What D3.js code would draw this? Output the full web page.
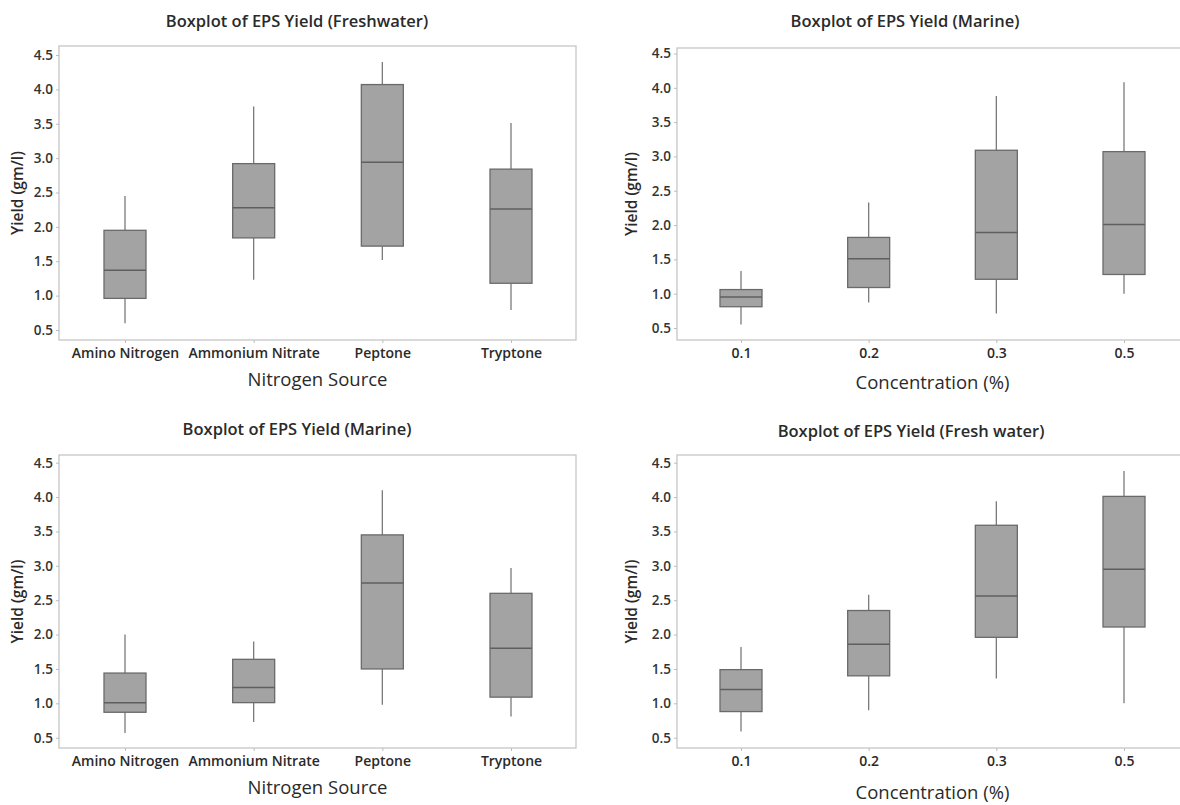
<!DOCTYPE html>
<html><head><meta charset="utf-8">
<script src="https://cdn.jsdelivr.net/npm/d3@7"></script>
<style>
html,body{margin:0;padding:0;background:#fff;}
svg{display:block;}
text{font-family:"Open Sans","Noto Sans",sans-serif;}
</style></head>
<body>
<svg id="chart" width="1180" height="805"></svg>
<script>
// ---- data: [whisker low, Q1, median, Q3, whisker high] ----
const nitrogenSources = ["Amino Nitrogen", "Ammonium Nitrate", "Peptone", "Tryptone"];
const concentrations = ["0.1", "0.2", "0.3", "0.5"];
const yTicks = [0.5, 1.0, 1.5, 2.0, 2.5, 3.0, 3.5, 4.0, 4.5];

const freshwaterNitrogen = [
  [0.60, 0.96, 1.37, 1.95, 2.45],
  [1.23, 1.84, 2.28, 2.92, 3.75],
  [1.52, 1.72, 2.94, 4.07, 4.40],
  [0.79, 1.18, 2.26, 2.84, 3.51]
];
const marineConcentration = [
  [0.55, 0.81, 0.95, 1.06, 1.33],
  [0.87, 1.09, 1.51, 1.82, 2.33],
  [0.71, 1.21, 1.89, 3.09, 3.88],
  [1.00, 1.28, 2.01, 3.07, 4.08]
];
const marineNitrogen = [
  [0.57, 0.87, 1.01, 1.44, 2.00],
  [0.73, 1.01, 1.23, 1.64, 1.90],
  [0.98, 1.50, 2.75, 3.45, 4.10],
  [0.81, 1.09, 1.80, 2.60, 2.97]
];
const freshConcentration = [
  [0.59, 0.88, 1.20, 1.49, 1.82],
  [0.90, 1.40, 1.86, 2.35, 2.58],
  [1.36, 1.96, 2.56, 3.59, 3.94],
  [1.00, 2.11, 2.95, 4.01, 4.38]
];

const titles = ["Boxplot of EPS Yield (Freshwater)", "Boxplot of EPS Yield (Marine)",
                "Boxplot of EPS Yield (Marine)", "Boxplot of EPS Yield (Fresh water)"];
const xTitles = ["Nitrogen Source", "Concentration (%)", "Nitrogen Source", "Concentration (%)"];
const yTitle = "Yield (gm/l)";

// ---- layout ----
const panels = [
  {cats: nitrogenSources, data: freshwaterNitrogen, title: titles[0], xt: xTitles[0],
   fx0: 59, fx1: 576, fy0: 46, fy1: 340, x0: 125, x1: 511, yTop: 55, yBot: 330,
   titleX: 297, titleY: 23, xtY: 381, tickY: 352, ylX: 19},
  {cats: concentrations, data: marineConcentration, title: titles[1], xt: xTitles[1],
   fx0: 677, fx1: 1190, fy0: 48, fy1: 340, x0: 741, x1: 1124, yTop: 53.5, yBot: 328,
   titleX: 905, titleY: 23, xtY: 384, tickY: 352, ylX: 633},
  {cats: nitrogenSources, data: marineNitrogen, title: titles[2], xt: xTitles[2],
   fx0: 59, fx1: 576, fy0: 455, fy1: 748, x0: 125, x1: 511, yTop: 462.7, yBot: 737.7,
   titleX: 297, titleY: 431, xtY: 789, tickY: 760, ylX: 19},
  {cats: concentrations, data: freshConcentration, title: titles[3], xt: xTitles[3],
   fx0: 677, fx1: 1190, fy0: 455, fy1: 748, x0: 741, x1: 1124, yTop: 462.7, yBot: 737.7,
   titleX: 911, titleY: 433, xtY: 794, tickY: 760, ylX: 633}
];

const svg = d3.select("#chart");
const textCol = "#2a2a2a";
const boxW = 42;

panels.forEach(p => {
  const g = svg.append("g");
  const x = d3.scalePoint().domain(p.cats).range([p.x0, p.x1]);
  const y = d3.scaleLinear().domain([0.5, 4.5]).range([p.yBot, p.yTop]);

  // frame
  g.append("rect").attr("x", p.fx0).attr("y", p.fy0)
    .attr("width", p.fx1 - p.fx0).attr("height", p.fy1 - p.fy0)
    .attr("fill", "none").attr("stroke", "#c6c6c6").attr("stroke-width", 1.3);

  // y axis
  const ya = g.append("g").attr("transform", `translate(${p.fx0},0)`)
    .call(d3.axisLeft(y).tickValues(yTicks).tickFormat(d3.format(".1f")).tickSize(3).tickPadding(3));
  ya.select(".domain").remove();
  ya.selectAll(".tick line").attr("stroke", "#bdbdbd");
  ya.selectAll(".tick text").attr("fill", "#333").style("font-size", "13.5px").style("font-weight", 600)
    .style("font-family", '"Open Sans",sans-serif');

  // x axis
  const xa = g.append("g").attr("transform", `translate(0,${p.fy1})`)
    .call(d3.axisBottom(x).tickSize(3).tickPadding(5));
  xa.select(".domain").remove();
  xa.selectAll(".tick line").attr("stroke", "#bdbdbd");
  xa.selectAll(".tick text").attr("fill", textCol).style("font-size", "14px").style("font-weight", 600)
    .style("font-family", '"Open Sans",sans-serif');

  // boxes
  const b = g.selectAll("g.box").data(p.data).join("g").attr("class", "box")
    .attr("transform", (d, i) => `translate(${x(p.cats[i])},0)`);
  b.append("line").attr("x1", 0).attr("x2", 0)
    .attr("y1", d => y(d[4])).attr("y2", d => y(d[3]))
    .attr("stroke", "#7a7a7a").attr("stroke-width", 1.3);
  b.append("line").attr("x1", 0).attr("x2", 0)
    .attr("y1", d => y(d[1])).attr("y2", d => y(d[0]))
    .attr("stroke", "#7a7a7a").attr("stroke-width", 1.3);
  b.append("rect").attr("x", -boxW / 2).attr("width", boxW)
    .attr("y", d => y(d[3])).attr("height", d => y(d[1]) - y(d[3]))
    .attr("fill", "#a3a3a3").attr("stroke", "#6a6a6a").attr("stroke-width", 1.3);
  b.append("line").attr("x1", -boxW / 2).attr("x2", boxW / 2)
    .attr("y1", d => y(d[2])).attr("y2", d => y(d[2]))
    .attr("stroke", "#5f5f5f").attr("stroke-width", 1.5);

  // titles
  g.append("text").attr("x", p.titleX).attr("y", p.titleY).attr("text-anchor", "middle")
    .attr("dominant-baseline", "middle")
    .attr("fill", textCol).style("font-size", "16.5px").style("font-weight", 600).text(p.title);
  g.append("text").attr("x", (p.fx0 + Math.min(p.fx1, 1188)) / 2).attr("y", p.xtY)
    .attr("text-anchor", "middle").attr("dominant-baseline", "middle")
    .attr("fill", textCol).style("font-size", "18.5px").style("font-weight", 500).text(p.xt);
  g.append("text").attr("transform", `translate(${p.ylX},${(p.fy0 + p.fy1) / 2}) rotate(-90)`)
    .attr("text-anchor", "middle").attr("dominant-baseline", "middle")
    .attr("fill", textCol).style("font-size", "15.5px").style("font-weight", 600).text(yTitle);
});
</script>
</body></html>
